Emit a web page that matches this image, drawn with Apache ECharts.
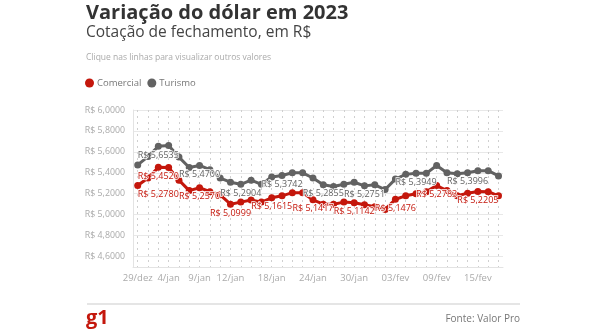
<!DOCTYPE html>
<html>
<head>
<meta charset="utf-8">
<script src="https://cdn.jsdelivr.net/npm/echarts@6/dist/echarts.min.js"></script>
<style>
html,body{margin:0;padding:0;background:#fff;}
#chart{width:590px;height:330px;}
</style>
</head>
<body>
<div id="chart"></div>
<script>
// ---- DATA ----
var dates = ['29/dez','2/jan','3/jan','4/jan','5/jan','6/jan','9/jan','10/jan','11/jan','12/jan','13/jan',
  '16/jan','17/jan','18/jan','19/jan','20/jan','23/jan','24/jan','25/jan','26/jan','27/jan',
  '30/jan','31/jan','01/fev','02/fev','03/fev','06/fev','07/fev','08/fev','09/fev','10/fev',
  '13/fev','14/fev','15/fev','16/fev','17/fev'];
var shownDates = ['29/dez','4/jan','9/jan','12/jan','18/jan','24/jan','30/jan','03/fev','09/fev','15/fev'];
var comercial = [5.2780,5.3500,5.4520,5.4500,5.3300,5.2300,5.2570,5.2200,5.1900,5.0999,5.1200,
  5.1400,5.1200,5.1615,5.1800,5.2100,5.2100,5.1417,5.1000,5.1000,5.1200,
  5.1142,5.0950,5.0750,5.0500,5.1476,5.1800,5.2000,5.2200,5.2783,5.2300,
  5.1800,5.2050,5.2205,5.2200,5.1800];
var turismo = [5.4750,5.5550,5.6535,5.6600,5.5500,5.4500,5.4700,5.4300,5.3500,5.3100,5.2904,
  5.3300,5.2900,5.3600,5.3742,5.4000,5.4000,5.3500,5.2855,5.2700,5.2900,
  5.3100,5.2751,5.2850,5.2400,5.3400,5.3850,5.3949,5.3950,5.4700,5.4000,
  5.3900,5.3996,5.4200,5.4200,5.3700];
var labeledComercial = [0,2,6,9,13,17,21,25,29,33];
var labeledTurismo = [2,6,10,14,18,22,27,32];
var yTicks = [4.6,4.8,5.0,5.2,5.4,5.6,5.8,6.0];

var RED = '#c4170c', GRAY = '#626262';
var FONT = '"Open Sans", "Noto Sans", sans-serif';

function fmt(v){ return 'R$ ' + v.toFixed(4).replace('.', ','); }

function buildData(values, labeled){
  return values.map(function(v, i){
    var item = {value: v};
    if (labeled.indexOf(i) >= 0) {
      item.label = {show: true};
      if (i === 0) item.label.align = 'left';
    }
    return item;
  });
}

var chart = echarts.init(document.getElementById('chart'), null, {renderer:'canvas'});

var labelStyle = function(color){
  return {
    show: false, position: 'bottom', distance: 1,
    fontFamily: FONT, fontSize: 9, color: color,
    textBorderColor: '#fff', textBorderWidth: 1.5,
    formatter: function(p){ return fmt(p.value); }
  };
};

var option = {
  animation: false,
  backgroundColor: '#fff',
  textStyle: {fontFamily: FONT},
  title: [
    {text: 'Variação do dólar em 2023', left: 86, top: 3, padding: 0,
     textStyle: {fontFamily: FONT, fontSize: 20, fontWeight: 'bold', color: '#333'}},
    {text: 'Cotação de fechamento, em R$', left: 86, top: 25, padding: 0,
     textStyle: {fontFamily: FONT, fontSize: 15.5, fontWeight: 'normal', color: '#444'}},
    {text: 'Clique nas linhas para visualizar outros valores', left: 86, top: 53, padding: 0,
     textStyle: {fontFamily: FONT, fontSize: 8.5, fontWeight: 'normal', color: '#aaa'}},
    {text: 'g1', left: 86, top: 308, padding: 0,
     textStyle: {fontFamily: FONT, fontSize: 20, fontWeight: 'bold', color: RED}},
    {text: 'Fonte: Valor Pro', right: 70, top: 314, padding: 0,
     textStyle: {fontFamily: FONT, fontSize: 10, fontWeight: 'normal', color: '#777'}}
  ],
  legend: {
    left: 85, top: 78, padding: 0, itemGap: 6,
    icon: 'circle', itemWidth: 9, itemHeight: 9,
    textStyle: {fontFamily: FONT, fontSize: 9.5, color: '#777', padding: [0,0,0,-2]},
    data: ['Comercial', 'Turismo']
  },
  graphic: [
    {type: 'line', shape: {x1: 87, y1: 304, x2: 520, y2: 304},
     style: {stroke: '#dcdcdc', lineWidth: 1.5}}
  ],
  grid: [
    {left: 133, right: 87, top: 110, bottom: 63},
    {left: 137.7, right: 91.5, top: 110, bottom: 63}
  ],
  xAxis: [
    {type: 'value', gridIndex: 0, min: 0, max: 1, show: true,
     axisLine: {show: true, lineStyle: {color: '#e3e3e3', width: 1}},
     axisTick: {show: false}, axisLabel: {show: false}, splitLine: {show: false}},
    {type: 'category', gridIndex: 1, data: dates, boundaryGap: false,
     axisLine: {show: false}, axisTick: {show: false},
     axisLabel: {
       interval: function(i, v){ return shownDates.indexOf(v) >= 0; },
       showMinLabel: true, showMaxLabel: true,
       margin: 6, color: '#aaa', fontFamily: FONT, fontSize: 9.5, hideOverlap: false
     },
     splitLine: {show: true, interval: 0,
       lineStyle: {color: '#cfcfcf', width: 1, type: [2, 4]}}}
  ],
  yAxis: [
    {type: 'value', gridIndex: 0, min: 4.5, max: 6.0, interval: 0.1,
     axisLine: {show: true, lineStyle: {color: '#e3e3e3'}},
     axisTick: {show: false},
     axisLabel: {margin: 8, color: '#aaa', fontFamily: FONT, fontSize: 8.8,
       formatter: function(v){
         var r = Math.round(v * 10) / 10;
         for (var k = 0; k < yTicks.length; k++) { if (Math.abs(yTicks[k] - r) < 1e-6) return fmt(r); }
         return '';
       }},
     splitLine: {show: true, lineStyle: {color: ['rgba(0,0,0,0)', '#e8e8e8'], width: 1}}},
    {type: 'value', gridIndex: 1, min: 4.5, max: 6.0, show: false,
     splitLine: {show: false}}
  ],
  series: [
    {name: 'Comercial', type: 'line', xAxisIndex: 1, yAxisIndex: 1,
     data: buildData(comercial, labeledComercial), color: RED,
     lineStyle: {width: 3, color: RED}, symbol: 'circle', symbolSize: 7,
     itemStyle: {color: RED}, showAllSymbol: true, label: labelStyle(RED)},
    {name: 'Turismo', type: 'line', xAxisIndex: 1, yAxisIndex: 1,
     data: buildData(turismo, labeledTurismo), color: GRAY,
     lineStyle: {width: 3, color: GRAY}, symbol: 'circle', symbolSize: 7,
     itemStyle: {color: GRAY}, showAllSymbol: true, label: labelStyle(GRAY)}
  ]
};
chart.setOption(option);
</script>
</body>
</html>
